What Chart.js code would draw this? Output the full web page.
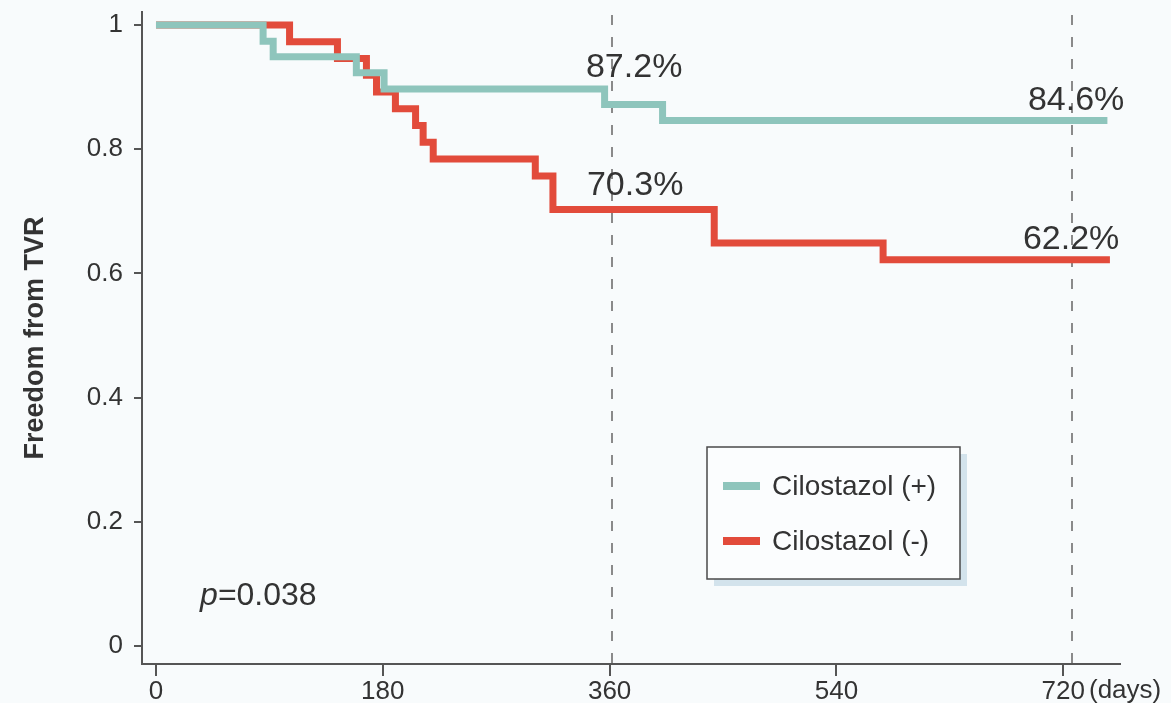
<!DOCTYPE html>
<html>
<head>
<meta charset="utf-8">
<script src="https://cdn.jsdelivr.net/npm/chart.js@4.4.1/dist/chart.umd.min.js"></script>
<style>
  html, body { margin: 0; padding: 0; background: #f8fbfc; }
  canvas { display: block; }
</style>
</head>
<body>
<canvas id="km" width="1171" height="703"></canvas>
<script>
// Kaplan–Meier freedom from target-vessel revascularisation, by cilostazol use
const seriesNames = ['Cilostazol (+)', 'Cilostazol (-)'];

const cilPlusDays = [0, 85, 93, 159, 181, 356, 402, 755];
const cilPlusSurv = [1, 0.974, 0.949, 0.923, 0.897, 0.872, 0.846, 0.846];

const cilMinusDays = [0, 106, 144, 167, 175, 190, 206, 212, 220, 301, 315, 443, 577, 757];
const cilMinusSurv = [1, 0.973, 0.946, 0.919, 0.892, 0.865, 0.838, 0.811, 0.784, 0.757, 0.703, 0.649, 0.622, 0.622];

const xTickValues = [0, 180, 360, 540, 720];
const yTickValues = [0, 0.2, 0.4, 0.6, 0.8, 1];
const yTickLabels = ['0', '0.2', '0.4', '0.6', '0.8', '1'];

// dashed landmark guides (one and two years)
const landmarkDays = [362, 727];

// survival rates printed at the landmarks
const rateTexts    = ['87.2%', '70.3%', '84.6%', '62.2%'];
const rateValues   = [0.872, 0.703, 0.846, 0.622];
const rateLandmark = [0, 0, 1, 1];

const pValueText = '0.038';

// ---- styling / layout ----
const FONT = "'Liberation Sans', Arial, Helvetica, sans-serif";
const TEXT = '#333333';
const AXIS = '#555555';
const COLORS = ['#8ec5bc', '#e24b3b'];
const rateOffsets = [[22, -37], [23, -24], [4, -20], [-1, -20]];
const legendBox = { x: 707, y: 447, w: 253, h: 132 };

const toPoints = (xs, ys) => xs.map((x, i) => ({ x: x, y: ys[i] }));

const noEdgePadding = s => {
  s.paddingTop = 0; s.paddingBottom = 0; s.paddingLeft = 0; s.paddingRight = 0;
};

const backgroundPlugin = {
  id: 'bg',
  beforeDraw(chart) {
    const c = chart.ctx;
    c.save();
    c.fillStyle = '#f8fbfc';
    c.fillRect(0, 0, chart.width, chart.height);
    c.restore();
  }
};

const landmarkPlugin = {
  id: 'landmarks',
  beforeDatasetsDraw(chart) {
    const c = chart.ctx, xs = chart.scales.x, a = chart.chartArea;
    c.save();
    c.strokeStyle = '#8a8a8a';
    c.lineWidth = 2;
    c.setLineDash([10, 12]);
    landmarkDays.forEach(d => {
      const px = Math.round(xs.getPixelForValue(d));
      c.beginPath();
      c.moveTo(px, a.top + 3);
      c.lineTo(px, a.bottom);
      c.stroke();
    });
    c.restore();
  }
};

const annotationPlugin = {
  id: 'annotations',
  afterDraw(chart) {
    const c = chart.ctx, xs = chart.scales.x, ys = chart.scales.y;
    c.save();
    c.fillStyle = TEXT;
    c.textBaseline = 'middle';

    // landmark rates
    c.font = `34px ${FONT}`;
    c.textAlign = 'center';
    rateTexts.forEach((t, i) => {
      const px = xs.getPixelForValue(landmarkDays[rateLandmark[i]]) + rateOffsets[i][0];
      const py = ys.getPixelForValue(rateValues[i]) + rateOffsets[i][1];
      c.fillText(t, px, py);
    });

    // log-rank p value
    c.textAlign = 'left';
    const px0 = xs.getPixelForValue(35), py0 = ys.getPixelForValue(0.08);
    c.font = `italic 32px ${FONT}`;
    c.fillText('p', px0, py0);
    const pw = c.measureText('p').width;
    c.font = `32px ${FONT}`;
    c.fillText('=' + pValueText, px0 + pw, py0);

    // x unit
    c.font = `26px ${FONT}`;
    c.fillText('(days)', 1089, 691);

    // legend
    const b = legendBox;
    c.fillStyle = '#d3e3ec';
    c.fillRect(b.x + 7, b.y + 7, b.w, b.h);
    c.fillStyle = '#fbfdfe';
    c.fillRect(b.x, b.y, b.w, b.h);
    c.strokeStyle = '#4a4a4a';
    c.lineWidth = 1.5;
    c.strokeRect(b.x, b.y, b.w, b.h);
    c.font = `28px ${FONT}`;
    chart.data.datasets.forEach((ds, i) => {
      const ly = b.y + 39 + i * 55;
      c.strokeStyle = ds.borderColor;
      c.lineWidth = 8;
      c.beginPath();
      c.moveTo(b.x + 16, ly);
      c.lineTo(b.x + 53, ly);
      c.stroke();
      c.fillStyle = TEXT;
      c.fillText(ds.label, b.x + 65, ly + 1);
    });
    c.restore();
  }
};

new Chart(document.getElementById('km'), {
  type: 'line',
  data: {
    datasets: [
      {
        label: seriesNames[0],
        data: toPoints(cilPlusDays, cilPlusSurv),
        borderColor: COLORS[0],
        backgroundColor: COLORS[0],
        borderWidth: 7,
        stepped: true,
        pointRadius: 0,
        borderJoinStyle: 'miter',
        borderCapStyle: 'butt',
        fill: false,
        clip: false
      },
      {
        label: seriesNames[1],
        data: toPoints(cilMinusDays, cilMinusSurv),
        borderColor: COLORS[1],
        backgroundColor: COLORS[1],
        borderWidth: 7,
        stepped: true,
        pointRadius: 0,
        borderJoinStyle: 'miter',
        borderCapStyle: 'butt',
        fill: false,
        clip: false
      }
    ]
  },
  options: {
    responsive: false,
    animation: false,
    events: [],
    layout: { padding: { top: 12, right: 51, left: 0, bottom: 0 } },
    plugins: {
      legend: { display: false },
      tooltip: { enabled: false }
    },
    scales: {
      x: {
        type: 'linear',
        min: -11.1,
        max: 765,
        afterBuildTicks(s) { s.ticks = xTickValues.map(v => ({ value: v })); },
        afterFit(s) { s.height = 39; noEdgePadding(s); },
        ticks: {
          color: TEXT,
          font: { family: FONT, size: 26 },
          padding: 0,
          maxRotation: 0,
          callback: v => String(v)
        },
        grid: {
          drawOnChartArea: false,
          drawTicks: true,
          tickLength: 12,
          color: AXIS,
          lineWidth: 2
        },
        border: { display: true, color: AXIS, width: 2 }
      },
      y: {
        type: 'linear',
        min: -0.029,
        max: 1.0209,
        afterBuildTicks(s) { s.ticks = yTickValues.map(v => ({ value: v })); },
        afterFit(s) { s.width = 142; noEdgePadding(s); },
        ticks: {
          color: TEXT,
          font: { family: FONT, size: 26 },
          padding: 11,
          callback: (v, i) => yTickLabels[i]
        },
        grid: {
          drawOnChartArea: false,
          drawTicks: true,
          tickLength: 8,
          color: AXIS,
          lineWidth: 2
        },
        border: { display: true, color: AXIS, width: 2 },
        title: {
          display: true,
          text: 'Freedom from TVR',
          color: TEXT,
          font: { family: FONT, size: 27, weight: 'bold' },
          padding: { top: 19, bottom: 0 }
        }
      }
    }
  },
  plugins: [backgroundPlugin, landmarkPlugin, annotationPlugin]
});
</script>
</body>
</html>
